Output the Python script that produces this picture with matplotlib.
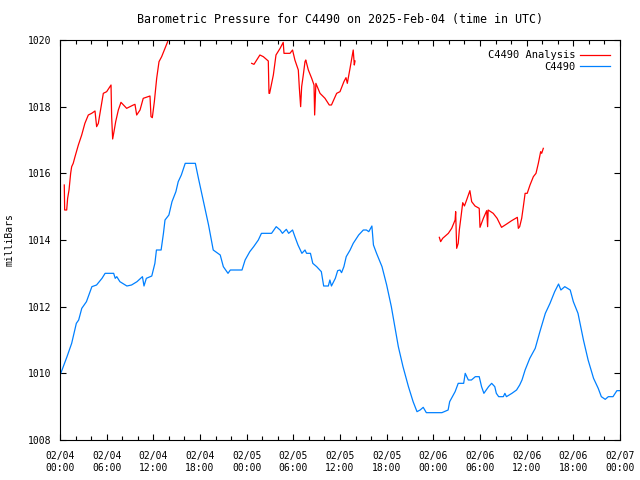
import matplotlib
matplotlib.use("Agg")
import matplotlib.pyplot as plt
import numpy as np

plt.rcParams['font.family'] = ['DejaVu Sans Mono']
plt.rcParams['font.size'] = 7

# hours since 2025-02-04 00:00 UTC
obs_hours = [0.1, 0.9, 1.5, 2.1, 2.4, 2.8, 3.4, 4.1, 4.7, 5.4, 5.8, 6.9, 7.1, 7.3, 7.7,
             8.6, 9.2, 9.9, 10.6, 10.8, 11.1, 11.8, 12.2, 12.4, 13.0, 13.3, 13.5, 14.0,
             14.4, 14.9, 15.2, 15.6, 16.1, 17.4, 17.8, 18.4, 19.1, 19.7, 20.6, 21.0,
             21.6, 21.9, 23.4, 23.8, 24.4, 24.9, 25.5, 25.9, 27.2, 27.8, 28.3, 28.6,
             29.1, 29.4, 29.9, 30.2, 30.6, 31.1, 31.5, 31.7, 32.2, 32.5, 33.0, 33.6,
             33.9, 34.5, 34.7, 34.9, 35.4, 35.7, 36.0, 36.2, 36.5, 36.8, 37.3, 37.7,
             38.4, 39.0, 39.4, 39.7, 40.1, 40.3, 40.7, 41.4, 42.0, 42.6, 43.5, 44.1,
             44.8, 45.4, 45.9, 46.3, 46.7, 47.1, 49.1, 49.9, 50.1, 50.8, 51.2, 51.9,
             52.1, 52.5, 52.9, 53.4, 53.9, 54.2, 54.5, 55.1, 55.5, 55.9, 56.1, 56.4,
             57.0, 57.2, 57.4, 58.1, 58.7, 59.1, 59.4, 59.8, 60.4, 61.1, 61.7, 62.4,
             63.0, 63.6, 64.1, 64.4, 64.9, 65.6, 66.0, 66.6, 67.3, 67.9, 68.6, 69.2,
             69.6, 70.1, 70.5, 71.1, 71.6, 72.0]
obs_mb = [1010.0, 1010.5, 1010.9, 1011.5, 1011.6, 1011.95, 1012.15, 1012.6, 1012.65,
          1012.85, 1013.0, 1013.0, 1012.85, 1012.9, 1012.75, 1012.62, 1012.65, 1012.75,
          1012.9, 1012.62, 1012.85, 1012.92, 1013.3, 1013.7, 1013.7, 1014.2, 1014.6,
          1014.75, 1015.15, 1015.45, 1015.75, 1015.95, 1016.3, 1016.3, 1015.85, 1015.2,
          1014.45, 1013.7, 1013.55, 1013.2, 1013.0, 1013.1, 1013.1, 1013.4, 1013.65,
          1013.8, 1014.0, 1014.2, 1014.2, 1014.4, 1014.3, 1014.2, 1014.32, 1014.2,
          1014.3, 1014.1, 1013.85, 1013.6, 1013.7, 1013.6, 1013.6, 1013.3, 1013.2,
          1013.05, 1012.62, 1012.62, 1012.8, 1012.62, 1012.85, 1013.08, 1013.1, 1013.02,
          1013.2, 1013.5, 1013.7, 1013.9, 1014.15, 1014.3, 1014.3, 1014.25, 1014.42,
          1013.85, 1013.6, 1013.2, 1012.65, 1012.0, 1010.8, 1010.2, 1009.6, 1009.15,
          1008.85, 1008.9, 1008.98, 1008.82, 1008.82, 1008.9, 1009.15, 1009.45, 1009.7,
          1009.7, 1010.0, 1009.8, 1009.8, 1009.9, 1009.9, 1009.6, 1009.4, 1009.6,
          1009.7, 1009.6, 1009.4, 1009.3, 1009.3, 1009.4, 1009.3, 1009.4, 1009.5,
          1009.65, 1009.8, 1010.1, 1010.45, 1010.75, 1011.25, 1011.8, 1012.1, 1012.45,
          1012.68, 1012.5, 1012.6, 1012.5, 1012.15, 1011.8, 1011.0, 1010.4, 1009.85,
          1009.55, 1009.3, 1009.22, 1009.3, 1009.3, 1009.48, 1009.48]

# analysis series, NaN marks the gaps
ana_hours = [0.55, 0.6, 0.86, 0.98, 1.16, 1.37, 1.5, 1.7, 1.93, 2.36, 2.79, 3.2, 3.64,
             4.07, 4.5, 4.71, 4.93, 5.14, 5.57, 6.0, 6.56, 6.64, 6.77, 6.94, 7.16, 7.5,
             7.84, 8.57, 9.43, 9.64, 9.86, 10.29, 10.7, 11.57, 11.7, 11.87, 12.13,
             12.43, 12.73, 13.07, 13.5, 13.84,
             np.nan,
             24.64, 24.94, 25.7, 26.14, 26.78, 26.87, 26.95, 27.43, 27.77, 28.3, 28.7,
             28.8, 29.57, 29.9, 30.2, 30.64, 30.77, 30.94, 31.07, 31.28, 31.5, 31.6,
             31.93, 32.36, 32.66, 32.74, 32.9, 33.43, 33.86, 34.07, 34.62, 34.9, 35.57,
             36.0, 36.5, 36.77, 36.94, 37.29, 37.7, 37.84, 37.93,
             np.nan,
             48.77, 48.94, 49.2, 49.93, 50.36, 50.8, 50.87, 51.0, 51.2, 51.34, 51.56,
             51.78, 52.0, 52.28, 52.7, 52.93, 53.36, 53.9, 54.0, 54.43, 54.86, 54.98,
             55.05, 55.7, 56.2, 56.77, 57.43, 58.07, 58.8, 58.93, 59.1, 59.36, 59.57,
             59.8, 60.07, 60.43, 60.86, 61.2, 61.5, 61.8, 61.93, 62.14]
ana_mb = [1015.65, 1014.9, 1014.9, 1015.25, 1015.5, 1016.0, 1016.2, 1016.3, 1016.5,
          1016.85, 1017.15, 1017.5, 1017.75, 1017.8, 1017.87, 1017.4, 1017.5, 1017.8,
          1018.4, 1018.45, 1018.65, 1017.7, 1017.03, 1017.25, 1017.55, 1017.9, 1018.13,
          1017.95, 1018.05, 1018.07, 1017.75, 1017.9, 1018.25, 1018.32, 1017.7, 1017.67,
          1018.15, 1018.85, 1019.35, 1019.5, 1019.75, 1019.95,
          np.nan,
          1019.3, 1019.27, 1019.55, 1019.5, 1019.37, 1018.4, 1018.4, 1018.95, 1019.55,
          1019.75, 1019.93, 1019.6, 1019.6, 1019.7, 1019.4, 1019.1, 1018.57, 1018.0,
          1018.6, 1018.95, 1019.35, 1019.4, 1019.1, 1018.85, 1018.65, 1017.75, 1018.7,
          1018.4, 1018.3, 1018.25, 1018.05, 1018.05, 1018.4, 1018.45, 1018.75, 1018.87,
          1018.7, 1019.15, 1019.7, 1019.25, 1019.37,
          np.nan,
          1014.08, 1013.95, 1014.05, 1014.2, 1014.35, 1014.6, 1014.85, 1013.75, 1013.9,
          1014.3, 1014.7, 1015.12, 1015.02, 1015.2, 1015.48, 1015.15, 1015.02, 1014.95,
          1014.38, 1014.65, 1014.88, 1014.4, 1014.9, 1014.8, 1014.65, 1014.38, 1014.48,
          1014.58, 1014.68, 1014.35, 1014.4, 1014.65, 1015.0, 1015.4, 1015.4, 1015.65,
          1015.9, 1016.0, 1016.3, 1016.65, 1016.6, 1016.75]

tick_hours = list(range(0, 73, 6))
tick_labels = ['02/04\n00:00', '02/04\n06:00', '02/04\n12:00', '02/04\n18:00',
               '02/05\n00:00', '02/05\n06:00', '02/05\n12:00', '02/05\n18:00',
               '02/06\n00:00', '02/06\n06:00', '02/06\n12:00', '02/06\n18:00',
               '02/07\n00:00']

fig = plt.figure(figsize=(6.4, 4.8), dpi=100)
ax = fig.add_axes([60 / 640, 40 / 480, 560 / 640, 400 / 480])

ax.plot(ana_hours, ana_mb, color='#ff0000', lw=0.9, label='C4490 Analysis')
ax.plot(obs_hours, obs_mb, color='#0080ff', lw=0.9, label='C4490')

ax.set_xlim(0, 72)
ax.set_ylim(1008, 1020)
ax.set_xticks(tick_hours)
ax.set_xticklabels(tick_labels)
ax.set_xticks(range(0, 73, 2), minor=True)
ax.set_yticks(range(1008, 1021, 2))
ax.tick_params(which='both', direction='in', top=True, right=True, width=0.8)
ax.tick_params(which='major', length=4.5, pad=6)
ax.tick_params(axis='x', which='major', pad=8)
ax.tick_params(which='minor', length=3)
for s in ax.spines.values():
    s.set_linewidth(0.8)

ax.set_ylabel('milliBars', labelpad=10)
ax.set_title('Barometric Pressure for C4490 on 2025-Feb-04 (time in UTC)', pad=12)

ax.legend(loc='upper right', frameon=False, markerfirst=False, fontsize=7.5,
          handlelength=2.8, borderaxespad=0.6, labelspacing=0.15, handletextpad=0.5)

fig.savefig('out.png', dpi=100)
